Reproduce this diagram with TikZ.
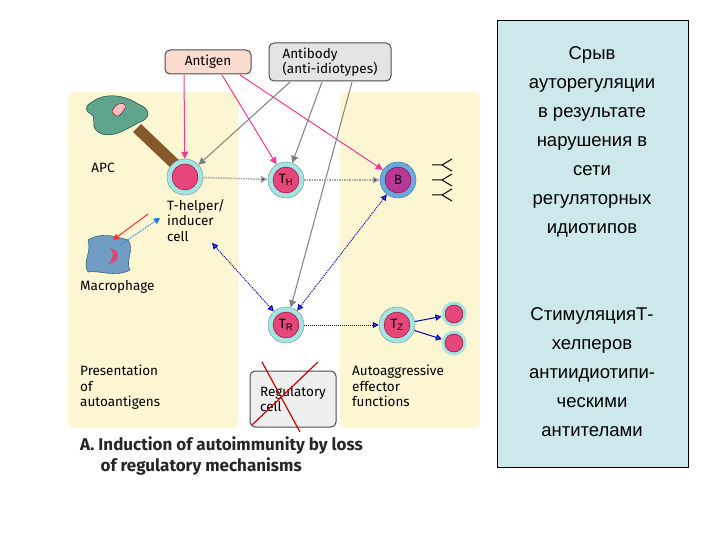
\documentclass[tikz,border=0pt]{standalone}
\usepackage{fontspec}
\setmainfont{Liberation Sans}
\newfontfamily\myfira{Fira Sans}
\usetikzlibrary{arrows.meta}
\definecolor{ylw}{HTML}{FDF6D2}
\definecolor{cyanring}{HTML}{A6E3E3}
\definecolor{cellpink}{HTML}{E6467A}
\definecolor{bblue}{HTML}{6AAAE0}
\definecolor{apink}{HTML}{EC3D96}
\definecolor{panel}{HTML}{CDE8EA}
\definecolor{gbox}{HTML}{E4E4E4}
\definecolor{pbox}{HTML}{F9DCCF}
\definecolor{apcg}{HTML}{5FA58E}
\tikzset{
 lf/.style={font=\myfira\fontsize{13.5}{15.5}\selectfont},
 cell/.style={circle,draw=cyanring!70!black,line width=0.5pt,fill=cyanring,minimum size=36pt,inner sep=0pt},
 core/.style={circle,draw=purple!70!black,fill=cellpink,minimum size=26pt,inner sep=0pt,lf},
 lbl/.style={lf,align=left,anchor=north west,inner sep=0pt},
 pa/.style={draw=apink,line width=1pt,-{Triangle[length=7pt,width=7pt]}},
 ga/.style={draw=gray,line width=1pt,-{Triangle[length=7pt,width=7pt]}},
 da/.style={draw=gray!70,densely dotted,line width=1.5pt,-{Triangle[length=7pt,width=7pt,fill=black]}},
 ba/.style={draw=blue!70!black,densely dotted,line width=1pt,-{Triangle[length=6pt,width=6pt,fill=blue!70]}},
 bx/.style={draw=black!70,rounded corners=5pt,line width=1pt,lf,align=left}
}
\begin{document}
\begin{tikzpicture}[x=1pt,y=-1pt]
\useasboundingbox (0,0) rectangle (720,540);
\fill[white] (0,0) rectangle (720,540);
% panels
\fill[ylw,rounded corners=6pt] (68,92) rectangle (238,428);
\fill[ylw,rounded corners=6pt] (340,92) rectangle (480,428);
% APC
\fill[brown!70!black] (133,132) -- (141,124) -- (182,163) -- (174,171) -- cycle;
\fill[apcg,draw=teal!40!black] (92,102) .. controls (105,92) and (125,95) .. (138,104)
  .. controls (150,108) and (152,118) .. (140,122) .. controls (125,130) and (110,140) .. (98,132)
  .. controls (88,124) and (100,118) .. (88,112) .. controls (84,108) and (88,104) .. (92,102);
\fill[pink,draw=purple!60!black] (112,112) .. controls (115,100) and (130,102) .. (124,110) .. controls (120,115) and (118,120) .. (112,112);
\node[lf] (apc) at (103,168) {APC};
% cells
\node[cell] (th0) at (185,177) {};
\node[core] (th0c) at (185,177) {};
\node[cell] (th) at (286,180) {};
\node[core] (thc) at (286,180) {T$_\mathrm{H}$};
\node[cell,draw=bblue!70!black,fill=bblue] (b) at (398,180) {};
\node[core,fill=cellpink!80!blue] (bc) at (398,180) {B};
\node[cell] (tr) at (286,325) {};
\node[core] (trc) at (286,325) {T$_\mathrm{R}$};
\node[cell] (tz) at (397,325) {};
\node[core] (tzc) at (397,325) {T$_\mathrm{Z}$};
\node[circle,fill=cyanring,minimum size=25pt,inner sep=0pt] (e1) at (454,314) {};
\node[circle,fill=cellpink,draw=purple!60!black,minimum size=18pt,inner sep=0pt] at (454,314) {};
\node[circle,fill=cyanring,minimum size=25pt,inner sep=0pt] (e2) at (454,343) {};
\node[circle,fill=cellpink,draw=purple!60!black,minimum size=18pt,inner sep=0pt] at (454,343) {};
% antibodies Y
\foreach \yy in {165,180,195}{
 \draw[line width=1pt] (432,\yy) -- (442,\yy) -- (452,\yy-6) (442,\yy) -- (452,\yy+6);}
% macrophage
\fill[bblue!70!gray,draw=bblue!40!black] (88,240) .. controls (100,232) and (115,236) .. (128,240)
 .. controls (135,248) and (125,262) .. (130,270) .. controls (115,278) and (100,270) .. (88,272)
 .. controls (82,262) and (92,252) .. (88,240);
\fill[purple!70] (110,248) .. controls (122,250) and (120,264) .. (108,264) .. controls (114,258) and (114,252) .. (110,248);
\node[lbl] (mac) at (80,280) {Macrophage};
\draw[red!80,line width=1pt,-{Triangle[length=6pt]}] (148,214) -- (113,240);
\draw[cyan!70!blue,densely dotted,line width=1pt,-{Triangle[length=6pt,fill=blue!70]}] (120,245) -- (160,218);
% labels
\node[lbl] (thlbl) at (167,199) {T-helper/\\inducer\\cell};
\node[lbl] (pres) at (80,365) {Presentation\\of\\autoantigens};
\node[lbl] (auto) at (352,365) {Autoaggressive\\effector\\functions};
\node[bx,fill=gbox!60,minimum width=86pt,minimum height=56pt] (reg) at (293,399) {Regulatory\\cell};
\draw[red!80!black,line width=1.2pt] (262,362) -- (300,432) (252,425) -- (318,362);
% top boxes
\node[bx,fill=pbox,minimum width=86pt,minimum height=24pt] (ag) at (208,62) {Antigen};
\node[bx,fill=gbox,minimum width=122pt,minimum height=38pt,inner sep=2pt] (ab) at (330,62) {Antibody\\(anti-idiotypes)};
% arrows
\draw[pa] (184,75) -- (th0);
\draw[pa] (222,75) -- (th);
\draw[pa] (240,75) -- (b);
\draw[ga] (290,82) -- (th0);
\draw[ga] (322,82) -- (th);
\draw[ga] (352,82) -- (tr);
\draw[da] (th0) -- (th);
\draw[da] (th) -- (b);
\draw[ba,{Triangle[length=6pt,width=6pt,fill=blue!70]}-{Triangle[length=6pt,width=6pt,fill=blue!70]}] (212,243) -- (tr);
\draw[ba,{Triangle[length=6pt,width=6pt,fill=blue!70]}-{Triangle[length=6pt,width=6pt,fill=blue!70]}] (tr) -- (b);
\draw[ba] (tr) -- (tz);
\draw[draw=blue!70!black,line width=1pt,-{Triangle[length=6pt,fill=blue!70]}] (tz) -- (e1);
\draw[draw=blue!70!black,line width=1pt,-{Triangle[length=6pt,fill=blue!70]}] (tz) -- (e2);
% caption
\node[lbl,font=\myfira\bfseries\fontsize{17}{21}\selectfont,text=black!85] (capt) at (80,437) {A. Induction of autoimmunity by loss\\\hspace*{1.2em}of regulatory mechanisms};
% right panel
\node[draw=black,fill=panel,minimum width=191pt,minimum height=447pt,anchor=north west,line width=0.8pt] (rp) at (497,20) {};
\node[font=\fontsize{18.5}{29}\selectfont,align=center,anchor=north] (t1) at (592,43) {Срыв\\ауторегуляции\\в результате\\нарушения в\\сети\\регуляторных\\идиотипов};
\node[font=\fontsize{18.5}{29}\selectfont,align=center,anchor=north] (t2) at (592,304) {СтимуляцияТ-\\хелперов\\антиидиотипи-\\ческими\\антителами};
\end{tikzpicture}
\end{document}
